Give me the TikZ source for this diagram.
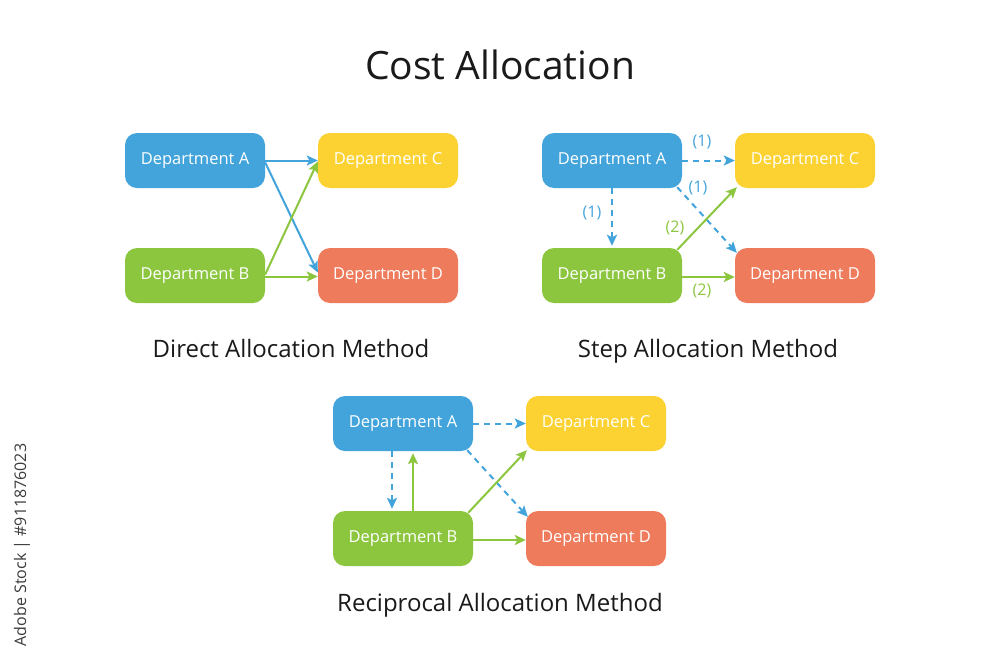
\documentclass[tikz,border=0pt]{standalone}
\usepackage{fontspec}
\setmainfont{Open Sans}
\usetikzlibrary{arrows.meta,calc}
\definecolor{cblue}{HTML}{42A4DB}
\definecolor{cyellow}{HTML}{FCD232}
\definecolor{cgreen}{HTML}{8CC63F}
\definecolor{cred}{HTML}{EE7B5B}
\definecolor{ctext}{HTML}{1A1A1A}
\tikzset{
  dept/.style={rounded corners=12pt, minimum width=140pt, minimum height=55pt, inner sep=0pt, text=white, font=\fontsize{16.5}{19}\selectfont},
  ablue/.style={draw=cblue, line width=2pt, -{Stealth[length=11pt,width=10pt,inset=2.5pt]}},
  agreen/.style={draw=cgreen, line width=2pt, -{Stealth[length=11pt,width=10pt,inset=2.5pt]}},
  dsh/.style={dash pattern=on 6pt off 5pt},
  lbl/.style={font=\fontsize{16}{19}\selectfont, inner sep=0pt},
  methodcap/.style={text=ctext, font=\fontsize{24}{28}\selectfont, inner sep=0pt, anchor=base}
}
\begin{document}
\begin{tikzpicture}[x=1pt,y=-1pt]
\useasboundingbox (0,0) rectangle (1000,667);
\fill[white] (0,0) rectangle (1000,667);
\node[text=ctext, font=\fontsize{39}{46}\selectfont, inner sep=0pt, anchor=base] (title) at (500,79) {Cost Allocation};
% Direct
\node[dept, fill=cblue] (dA) at (195,160.5) {Department A};
\node[dept, fill=cyellow] (dC) at (388,160.5) {Department C};
\node[dept, fill=cgreen] (dB) at (195,275.5) {Department B};
\node[dept, fill=cred] (dD) at (388,275.5) {Department D};
\draw[ablue] (dA.east) -- (dC.west);
\draw[ablue] ([yshift=-2pt]dA.east) -- ([yshift=3pt]dD.west);
\draw[agreen] ([yshift=1pt]dB.east) -- ([yshift=-1pt]dC.west);
\draw[agreen] ([yshift=-1pt]dB.east) -- ([yshift=-1pt]dD.west);
\node[methodcap] (capd) at (291,357) {Direct Allocation Method};
% Step
\node[dept, fill=cblue] (sA) at (612,160.5) {Department A};
\node[dept, fill=cyellow] (sC) at (805,160.5) {Department C};
\node[dept, fill=cgreen] (sB) at (612,275.5) {Department B};
\node[dept, fill=cred] (sD) at (805,275.5) {Department D};
\draw[ablue, dsh] (sA.east) -- (sC.west);
\draw[ablue, dsh] ([xshift=-5pt,yshift=1pt]sA.south east) -- ([xshift=2pt,yshift=-5pt]sD.north west);
\draw[ablue, dsh] (sA.south) -- ([yshift=2pt]sB.north);
\draw[agreen] ([xshift=-5pt,yshift=-2pt]sB.north east) -- ([xshift=2pt,yshift=1pt]sC.south west);
\draw[agreen] ([yshift=-1.5pt]sB.east) -- ([yshift=-1.5pt]sD.west);
\node[lbl, text=cblue] (l1) at (702,142) {(1)};
\node[lbl, text=cblue] (l2) at (698,188) {(1)};
\node[lbl, text=cblue] (l3) at (592,213) {(1)};
\node[lbl, text=cgreen] (l4) at (675,228) {(2)};
\node[lbl, text=cgreen] (l5) at (702,291) {(2)};
\node[methodcap] (caps) at (708,357) {Step Allocation Method};
% Reciprocal
\node[dept, fill=cblue] (rA) at (403,423.5) {Department A};
\node[dept, fill=cyellow] (rC) at (596,423.5) {Department C};
\node[dept, fill=cgreen] (rB) at (403,538.5) {Department B};
\node[dept, fill=cred] (rD) at (596,538.5) {Department D};
\draw[ablue, dsh] (rA.east) -- (rC.west);
\draw[ablue, dsh] ([xshift=-11pt]rA.south) -- ([xshift=-11pt,yshift=2pt]rB.north);
\draw[agreen] ([xshift=10pt]rB.north) -- ([xshift=10pt,yshift=-2pt]rA.south);
\draw[ablue, dsh] ([xshift=-6pt,yshift=1pt]rA.south east) -- ([xshift=2pt,yshift=-6pt]rD.north west);
\draw[agreen] ([xshift=-5pt,yshift=-2pt]rB.north east) -- ([xshift=1pt,yshift=1pt]rC.south west);
\draw[agreen] ([yshift=-1.5pt]rB.east) -- ([yshift=-1.5pt]rD.west);
\node[methodcap] (capr) at (500,611) {Reciprocal Allocation Method};
% side mark
\node[rotate=90, text=ctext!85, font=\fontsize{16}{18}\selectfont, inner sep=0pt] (mark) at (22,545) {Adobe Stock | \#911876023};
\end{tikzpicture}
\end{document}
